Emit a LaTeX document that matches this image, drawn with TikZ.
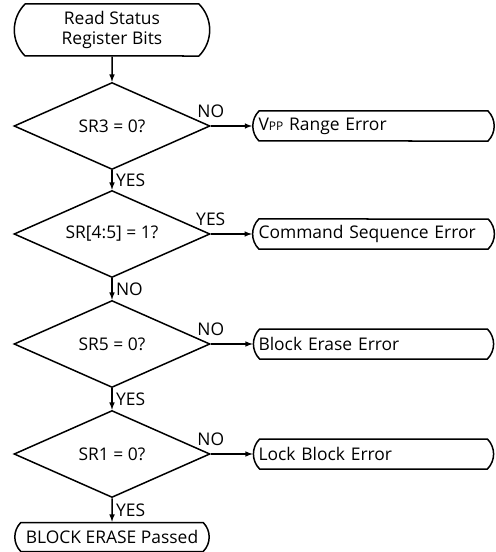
\documentclass[tikz,border=0pt]{standalone}
\usepackage{fontspec}
\setmainfont{Open Sans}
\usetikzlibrary{shapes.geometric, shapes.misc}

\begin{document}
\begin{tikzpicture}[
	x=1bp, y=-1bp,
	>=latex,
	every node/.style={font=\fontsize{17.5}{20.5}\selectfont},
	term/.style={draw, line width=1.5bp, rounded rectangle, rounded rectangle arc length=90, inner ysep=0pt},
	errbox/.style={term, minimum height=30bp, inner xsep=4bp, text width=230bp, align=left},
	test/.style={draw, line width=1.5bp, diamond, aspect=2.25, inner sep=0pt, minimum width=196bp, minimum height=87bp},
	flow/.style={->, line width=1.5bp}]

	\useasboundingbox (0,0) rectangle (496,552);

	\def\colx{112}
	\def\errx{373.5}

	% start and end
	\node [term, minimum width=202bp, minimum height=52bp, align=center] (read) at (\colx,30) {Read Status\\Register Bits};
	\node [term, minimum width=201bp, minimum height=29bp] (pass) at (\colx,537) {BLOCK ERASE Passed};

	% status bit checks
	\node [test] (sr3) at (\colx,126) {SR3 = 0?};
	\node [test] (sr45) at (\colx,234) {SR[4:5] = 1?};
	\node [test] (sr5) at (\colx,344) {SR5 = 0?};
	\node [test] (sr1) at (\colx,454) {SR1 = 0?};

	% error exits
	\node [errbox] (vpp) at (\errx,126) {V{\fontsize{12}{14}\selectfont PP} Range Error};
	\node [errbox] (cmd) at (\errx,234) {Command Sequence Error};
	\node [errbox] (ers) at (\errx,344) {Block Erase Error};
	\node [errbox] (lck) at (\errx,454) {Lock Block Error};

	\draw [flow] (read) -- (sr3);
	\draw [flow] (sr3) -- (sr45) node [midway, right] {YES};
	\draw [flow] (sr45) -- (sr5) node [midway, right] {NO};
	\draw [flow] (sr5) -- (sr1) node [midway, right] {YES};
	\draw [flow] (sr1) -- (pass) node [midway, right] {YES};

	\draw [flow] (sr3.east) -- (vpp.west) node [pos=0, above=4bp] {NO};
	\draw [flow] (sr45.east) -- (cmd.west) node [pos=0, above=4bp] {YES};
	\draw [flow] (sr5.east) -- (ers.west) node [pos=0, above=4bp] {NO};
	\draw [flow] (sr1.east) -- (lck.west) node [pos=0, above=4bp] {NO};

\end{tikzpicture}
\end{document}
